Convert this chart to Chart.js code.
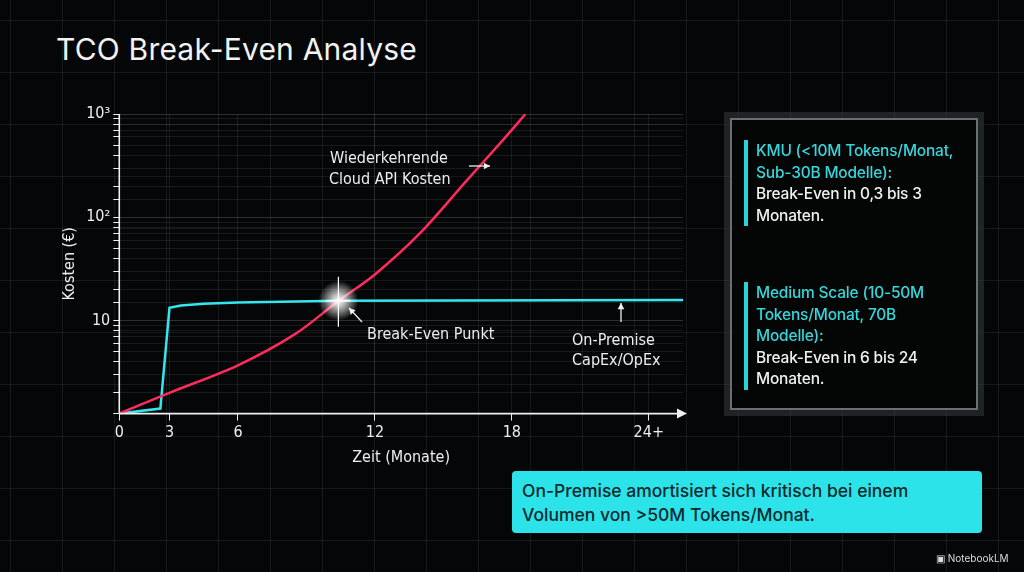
<!DOCTYPE html>
<html><head><meta charset="utf-8">
<script src="https://cdn.jsdelivr.net/npm/chart.js@4.4.1/dist/chart.umd.min.js"></script>
<style>
html,body{margin:0;padding:0;width:1024px;height:572px;overflow:hidden;background:#050607;font-family:Inter,"Noto Sans",sans-serif;}
#bg{position:absolute;left:0;top:0;width:1024px;height:572px;
background-image:linear-gradient(rgba(255,255,255,0.07) 1px,transparent 1px),linear-gradient(90deg,rgba(255,255,255,0.07) 1px,transparent 1px);
background-size:52px 52px;background-position:10px 20px;}
#title{position:absolute;left:56px;top:31px;color:#f2f2f2;font-size:30px;font-weight:400;letter-spacing:0.2px;}
#wrap{position:absolute;left:0;top:0;width:1024px;height:572px;}
#panel{position:absolute;left:730px;top:118px;width:244px;height:288px;border:2px solid #6a6f73;background:#040505;box-shadow:0 0 0 6px rgba(60,64,68,0.5);}
.blk{position:absolute;left:12px;border-left:4px solid #29d3d8;padding-left:8px;font-size:15.5px;line-height:21.5px;color:#f0f0f0;font-weight:500;letter-spacing:-0.2px;}
.blk .c{color:#36d6dc;}
#banner{position:absolute;left:512px;top:471px;width:470px;height:62px;background:#2de3ea;border-radius:4px;color:#0b2a2c;font-size:17.5px;line-height:24px;padding:8px 0 0 10px;box-sizing:border-box;font-weight:500;}
#nb{position:absolute;left:936px;top:552px;color:#ddd;font-size:10px;}
</style></head><body>
<div id="bg"></div>
<div id="title">TCO Break-Even Analyse</div>
<div id="wrap"><canvas id="c" width="1024" height="572"></canvas></div>
<div id="panel">
 <div class="blk" style="top:20px"><span class="c">KMU (&lt;10M Tokens/Monat,<br>Sub-30B Modelle):</span><br>Break-Even in 0,3 bis 3<br>Monaten.</div>
 <div class="blk" style="top:162px"><span class="c">Medium Scale (10-50M<br>Tokens/Monat, 70B<br>Modelle):</span><br>Break-Even in 6 bis 24<br>Monaten.</div>
</div>
<div id="banner">On-Premise amortisiert sich kritisch bei einem<br>Volumen von &gt;50M Tokens/Monat.</div>
<div id="nb">▣ NotebookLM</div>
<script>
// months (visual axis position), costs (€, log)
const cloudMonths = [0.8, 3, 6, 8.5, 10.4, 12, 14, 16, 17.5, 18.6];
const cloudCosts  = [1.26, 2.0, 3.7, 7.4, 15.5, 28, 71, 224, 525, 1000];
const onpremMonths = [0.8, 2.6, 3.0, 3.5, 4.5, 6, 10.4, 25.5];
const onpremCosts  = [1.26, 1.41, 13.3, 14.0, 14.6, 15.0, 15.6, 15.8];
const tickValues = [0.8, 3, 6, 12, 18, 24];
const tickLabels = ['0', '3', '6', '12', '18', '24+'];
const yLabels = {10: '10', 100: '10²', 1000: '10³'};
const breakEven = {x: 10.4, y: 15.6};

const toPts = (xs, ys) => xs.map((x, i) => ({x, y: ys[i]}));
const F = '"Liberation Sans Narrow","DejaVu Sans Condensed",sans-serif';

const deco = {
  id: 'deco',
  afterDatasetsDraw(ch) {
    const c = ch.ctx, xs = ch.scales.x, ys = ch.scales.y, a = ch.chartArea;
    c.save();
    c.strokeStyle = '#f0f0f0'; c.fillStyle = '#f0f0f0'; c.lineWidth = 1.6;
    c.beginPath(); c.moveTo(a.left, a.bottom); c.lineTo(a.right, a.bottom); c.stroke();
    c.beginPath(); c.moveTo(a.right + 4, a.bottom); c.lineTo(a.right - 6, a.bottom - 5); c.lineTo(a.right - 6, a.bottom + 5); c.fill();
    c.beginPath(); c.moveTo(a.left, a.bottom); c.lineTo(a.left, a.top); c.stroke();
    const bx = xs.getPixelForValue(breakEven.x), by = ys.getPixelForValue(breakEven.y);
    const g = c.createRadialGradient(bx, by, 0, bx, by, 20);
    g.addColorStop(0, 'rgba(255,255,255,1)'); g.addColorStop(0.3, 'rgba(255,255,255,0.75)'); g.addColorStop(1, 'rgba(255,255,255,0)');
    c.fillStyle = g; c.beginPath(); c.arc(bx, by, 20, 0, Math.PI * 2); c.fill();
    c.strokeStyle = '#ffffff'; c.lineWidth = 1.2;
    c.beginPath(); c.moveTo(bx, by - 24); c.lineTo(bx, by + 26); c.moveTo(bx - 12, by); c.lineTo(bx + 12, by); c.stroke();
    c.fillStyle = '#eeeeee'; c.font = '16px ' + F;
    c.textAlign = 'left';
    c.fillText('Wiederkehrende', 330, 163); c.fillText('Cloud API Kosten', 329, 184);
    c.fillText('Break-Even Punkt', 367, 339);
    c.fillText('On-Premise', 572, 345); c.fillText('CapEx/OpEx', 572, 365);
    c.strokeStyle = '#eeeeee'; c.lineWidth = 1.3;
    const arrow = (x1, y1, x2, y2) => {
      c.beginPath(); c.moveTo(x1, y1); c.lineTo(x2, y2); c.stroke();
      const an = Math.atan2(y2 - y1, x2 - x1);
      c.beginPath(); c.moveTo(x2, y2);
      c.lineTo(x2 - 7 * Math.cos(an - 0.5), y2 - 7 * Math.sin(an - 0.5));
      c.lineTo(x2 - 7 * Math.cos(an + 0.5), y2 - 7 * Math.sin(an + 0.5)); c.closePath(); c.fill();
    };
    arrow(469, 166, 490, 166);
    arrow(362, 322, 349, 308);
    arrow(621, 322, 621, 303);
    c.restore();
  }
};

new Chart(document.getElementById('c'), {
  type: 'line',
  data: {datasets: [
    {data: toPts(cloudMonths, cloudCosts), borderColor: '#ff2a5e', borderWidth: 2.5, tension: 0.3, pointRadius: 0},
    {data: toPts(onpremMonths, onpremCosts), borderColor: '#35e6ee', borderWidth: 2.5, tension: 0, pointRadius: 0}
  ]},
  options: {
    responsive: false, animation: false,
    layout: {padding: {left: 56, right: 341, top: 114, bottom: 101}},
    plugins: {legend: {display: false}, tooltip: {enabled: false}},
    scales: {
      x: {type: 'linear', min: 0.8, max: 25.5,
        afterBuildTicks: s => { s.ticks = tickValues.map(v => ({value: v})); },
        ticks: {color: '#eeeeee', font: {size: 16, family: F}, callback: (v, i) => tickLabels[i], maxRotation: 0},
        grid: {color: 'rgba(255,255,255,0.08)', tickColor: '#eeeeee', tickLength: 7},
        border: {display: false},
        title: {display: true, text: 'Zeit (Monate)', color: '#eeeeee', font: {size: 16, family: F}, padding: {top: 2}}
      },
      y: {type: 'logarithmic', min: 1.26, max: 1000,
        ticks: {color: '#eeeeee', font: {size: 16, family: F}, autoSkip: false,
          callback: v => yLabels[v] || ''},
        grid: {color: ctx => yLabels[ctx.tick && ctx.tick.value] ? 'rgba(255,255,255,0.16)' : 'rgba(255,255,255,0.08)', tickColor: '#eeeeee', tickLength: 6},
        border: {display: false},
        title: {display: true, text: 'Kosten (€)', color: '#eeeeee', font: {size: 16, family: F}}
      }
    }
  },
  plugins: [deco]
});
</script>
</body></html>
